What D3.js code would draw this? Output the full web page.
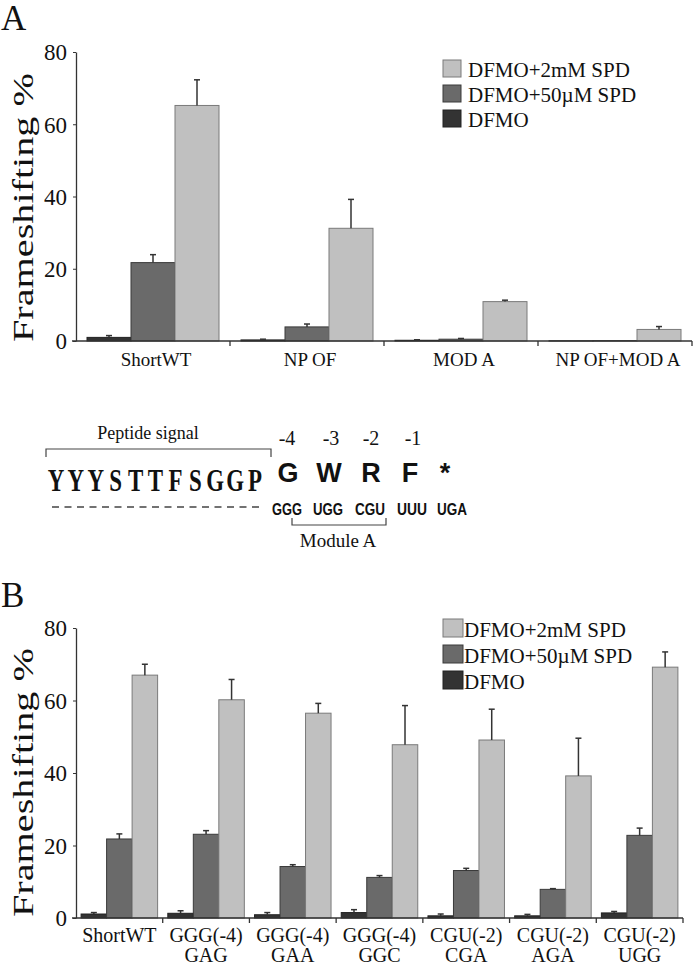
<!DOCTYPE html>
<html><head><meta charset="utf-8">
<script src="https://cdn.jsdelivr.net/npm/d3@7"></script>
<style>body{margin:0;background:#fff}svg{display:block}</style>
</head><body>
<svg id="c" width="693" height="966"></svg>
<script>
// ---- data ----
const series = ["DFMO", "DFMO+50µM SPD", "DFMO+2mM SPD"];
const seriesColors = ["#333333", "#6a6a6a", "#c0c0c0"];
const seriesStroke = ["#222222", "#3a3a3a", "#7a7a7a"];
const yTicks = [0, 20, 40, 60, 80];

const categoriesA = ["ShortWT", "NP OF", "MOD A", "NP OF+MOD A"];
const dfmoA = [1.0, 0.3, 0.2, 0.05];
const dfmoErrA = [0.5, 0.2, 0.15, 0];
const spd50A = [21.7, 3.9, 0.5, 0.1];
const spd50ErrA = [2.2, 0.8, 0.2, 0];
const spd2A = [65.2, 31.2, 10.9, 3.2];
const spd2ErrA = [7.1, 8.0, 0.4, 0.8];

const categoriesB = ["ShortWT", "GGG(-4)", "GGG(-4)", "GGG(-4)", "CGU(-2)", "CGU(-2)", "CGU(-2)"];
const categoriesB2 = ["", "GAG", "GAA", "GGC", "CGA", "AGA", "UGG"];
const dfmoB = [1.1, 1.3, 0.9, 1.5, 0.6, 0.6, 1.4];
const dfmoErrB = [0.4, 0.7, 0.6, 0.8, 0.5, 0.4, 0.4];
const spd50B = [21.8, 23.1, 14.2, 11.2, 13.1, 7.9, 22.8];
const spd50ErrB = [1.4, 1.0, 0.5, 0.5, 0.6, 0.2, 2.0];
const spd2B = [67.0, 60.2, 56.5, 47.8, 49.1, 39.2, 69.2];
const spd2ErrB = [3.0, 5.6, 2.7, 10.8, 8.5, 10.4, 4.2];

const peptide = ["Y","Y","Y","S","T","T","F","S","G","G","P"];
const aminoAcids = ["G","W","R","F","*"];
const positions = ["-4","-3","-2","-1"];
const codons = ["GGG","UGG","CGU","UUU","UGA"];

// ---- drawing ----
const svg = d3.select("#c");
const serif = "'Liberation Serif','Times New Roman',serif";

function panel(o) {
  const g = svg.append("g");
  const x = d3.scaleBand().domain(d3.range(o.cats.length)).range([o.x0, o.x1]);
  const xs = d3.scaleBand().domain(d3.range(3)).range([0, x.bandwidth()]).paddingOuter(o.pad).paddingInner(0);
  const y = d3.scaleLinear().domain([0, 80]).range([o.yb, o.yt]);
  const vals = [o.v0, o.v1, o.v2];
  const errs = [o.e0, o.e1, o.e2];

  // y axis
  const ya = g.append("g").attr("transform", `translate(${o.x0},0)`)
    .call(d3.axisLeft(y).tickValues(yTicks).tickSize(3).tickSizeOuter(0).tickPadding(6));
  ya.select(".domain").attr("stroke", "#333").attr("stroke-width", 1.3);
  ya.selectAll(".tick line").attr("stroke", "#333");
  ya.selectAll(".tick text").attr("font-family", serif).attr("font-size", 23).attr("fill", "#111").attr("dy", "0.34em");

  // bars
  for (let s = 0; s < 3; s++) {
    g.append("g").selectAll("rect").data(vals[s]).join("rect")
      .attr("x", (d, i) => x(i) + xs(s))
      .attr("y", d => y(d))
      .attr("width", xs.bandwidth())
      .attr("height", d => y(0) - y(d))
      .attr("fill", seriesColors[s])
      .attr("stroke", seriesStroke[s])
      .attr("stroke-width", 1);
    const eg = g.append("g").attr("stroke", "#333").attr("stroke-width", 1.5);
    vals[s].forEach((d, i) => {
      const e = errs[s][i];
      if (!e) return;
      const cx = x(i) + xs(s) + xs.bandwidth() / 2;
      eg.append("line").attr("x1", cx).attr("x2", cx).attr("y1", y(d)).attr("y2", y(d + e));
      eg.append("line").attr("x1", cx - 3).attr("x2", cx + 3).attr("y1", y(d + e)).attr("y2", y(d + e));
    });
  }

  // x axis
  const xa = g.append("g").attr("stroke", "#333");
  xa.append("line").attr("x1", o.x0 - 4).attr("x2", o.x1).attr("y1", y(0)).attr("y2", y(0)).attr("stroke-width", 1.5);
  x.domain().forEach(i => {
    const xe = x(i) + x.bandwidth();
    xa.append("line").attr("x1", xe).attr("x2", xe).attr("y1", y(0)).attr("y2", y(0) + 5).attr("stroke-width", 1.3);
  });
  g.append("g").selectAll("text").data(o.cats).join("text")
    .attr("x", (d, i) => x(i) + x.bandwidth() / 2 + (o.labDx || 0))
    .attr("y", o.labY)
    .attr("text-anchor", "middle").attr("font-family", serif).attr("font-size", o.labSize).attr("fill", "#111")
    .text(d => d);
  if (o.cats2) {
    g.append("g").selectAll("text").data(o.cats2).join("text")
      .attr("x", (d, i) => x(i) + x.bandwidth() / 2)
      .attr("y", o.labY2)
      .attr("text-anchor", "middle").attr("font-family", serif).attr("font-size", o.labSize).attr("fill", "#111")
      .text(d => d);
  }

  // y title
  const ym = (o.titleTop + o.titleBottom) / 2;
  g.append("text").attr("transform", `translate(33,${ym}) rotate(-90)`)
    .attr("text-anchor", "middle").attr("font-family", serif).attr("font-size", 30).attr("fill", "#111")
    .attr("textLength", o.titleBottom - o.titleTop).attr("lengthAdjust", "spacingAndGlyphs")
    .text("Frameshifting %");

  // panel letter
  g.append("text").attr("x", 1).attr("y", o.letterY).attr("font-family", serif).attr("font-size", 35).attr("fill", "#111").text(o.letter);

  // legend
  const order = [2, 1, 0];
  const lg = g.append("g");
  order.forEach((s, k) => {
    const yy = o.legY + k * o.legStep;
    lg.append("rect").attr("x", o.legX).attr("y", yy).attr("width", o.swW).attr("height", o.swH)
      .attr("fill", seriesColors[s]).attr("stroke", seriesStroke[s]).attr("stroke-width", 1);
    lg.append("text").attr("x", o.legTx).attr("y", yy + o.swH).attr("font-family", serif).attr("font-size", 21).attr("fill", "#111")
      .text(series[s]);
  });
}

panel({
  cats: categoriesA, x0: 76, x1: 692, pad: 0.25, yb: 341, yt: 52,
  v0: dfmoA, v1: spd50A, v2: spd2A, e0: dfmoErrA, e1: spd50ErrA, e2: spd2ErrA,
  labY: 366, labSize: 19, labDx: 3,
  titleTop: 73, titleBottom: 342, letter: "A", letterY: 30,
  legX: 443, legY: 60, legStep: 25, swW: 18, swH: 17, legTx: 468
});

panel({
  cats: categoriesB, cats2: categoriesB2, x0: 76, x1: 683, pad: 0.2, yb: 918, yt: 628,
  v0: dfmoB, v1: spd50B, v2: spd2B, e0: dfmoErrB, e1: spd50ErrB, e2: spd2ErrB,
  labY: 942, labY2: 962, labSize: 20,
  titleTop: 648, titleBottom: 917, letter: "B", letterY: 607,
  legX: 443, legY: 619, legStep: 26, swW: 20, swH: 18, legTx: 464
});

// ---- sequence diagram ----
const d = svg.append("g");
// peptide signal bracket
d.append("path").attr("d", "M46,457V449H271V457").attr("fill", "none").attr("stroke", "#444").attr("stroke-width", 1.2);
d.append("text").attr("x", 148).attr("y", 439).attr("text-anchor", "middle")
  .attr("font-family", serif).attr("font-size", 18).attr("fill", "#111").text("Peptide signal");
const pep = d3.scaleBand().domain(d3.range(peptide.length)).range([46, 265]);
d.append("g").selectAll("text").data(peptide).join("text")
  .attr("transform", (c, i) => `translate(${pep(i) + pep.bandwidth() / 2},491) scale(0.74,1)`)
  .attr("text-anchor", "middle")
  .attr("font-family", serif).attr("font-weight", "bold")
  .attr("font-size", 31).attr("fill", "#111").text(c => c);
// amino acids near frameshift site
const siteX = [288, 329, 371, 410, 445];
const codonX = [287, 328, 370, 412, 452];
d.append("g").selectAll("text").data(aminoAcids).join("text")
  .attr("x", (c, i) => siteX[i]).attr("y", 482).attr("text-anchor", "middle")
  .attr("font-family", "'Liberation Sans',Arial,sans-serif").attr("font-weight", "bold")
  .attr("font-size", 27).attr("fill", "#111").text(c => c);
d.append("g").selectAll("text").data(positions).join("text")
  .attr("x", (c, i) => [287, 331, 371, 413][i]).attr("y", 445).attr("text-anchor", "middle")
  .attr("font-family", serif).attr("font-size", 20).attr("fill", "#111").text(c => c);
d.append("g").selectAll("text").data(codons).join("text")
  .attr("x", (c, i) => codonX[i]).attr("y", 515).attr("text-anchor", "middle")
  .attr("font-family", "'Liberation Sans',Arial,sans-serif").attr("font-weight", "bold")
  .attr("font-size", 16).attr("textLength", 30).attr("lengthAdjust", "spacingAndGlyphs")
  .attr("fill", "#111").text(c => c);
// dashed line under peptide
d.append("line").attr("x1", 52).attr("x2", 264).attr("y1", 507).attr("y2", 507)
  .attr("stroke", "#444").attr("stroke-width", 1.5).attr("stroke-dasharray", "7,5.5");
// Module A bracket
d.append("path").attr("d", "M292,518V525H386V518").attr("fill", "none").attr("stroke", "#444").attr("stroke-width", 1.2);
d.append("text").attr("x", 338).attr("y", 547).attr("text-anchor", "middle")
  .attr("font-family", serif).attr("font-size", 19).attr("fill", "#111").text("Module A");
</script>
</body></html>
